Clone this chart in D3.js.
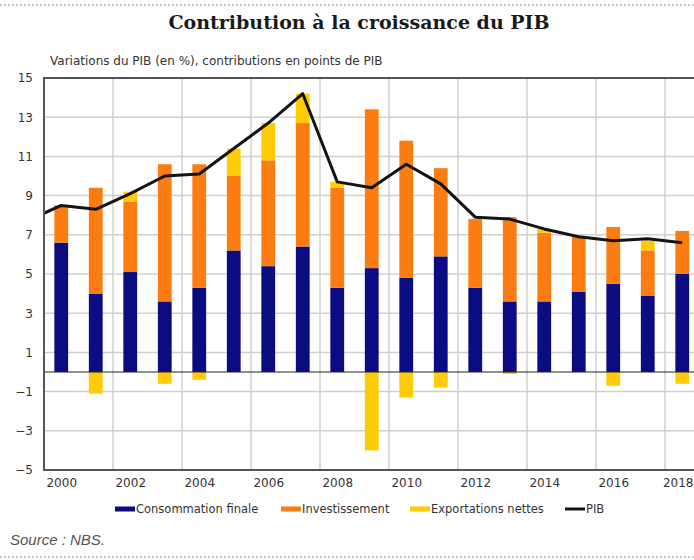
<!DOCTYPE html>
<html>
<head>
<meta charset="utf-8">
<script src="https://cdn.jsdelivr.net/npm/d3@7"></script>
<style>
  body { margin: 0; background: #fff; }
  svg { display: block; }
</style>
</head>
<body>
<div id="chart"></div>
<script>
// data (contributions in points of GDP)
var years = [2000, 2001, 2002, 2003, 2004, 2005, 2006, 2007, 2008, 2009,
             2010, 2011, 2012, 2013, 2014, 2015, 2016, 2017, 2018];
var consommation = [6.6, 4.0, 5.1, 3.6, 4.3, 6.2, 5.4, 6.4, 4.3, 5.3,
                    4.8, 5.9, 4.3, 3.6, 3.6, 4.1, 4.5, 3.9, 5.0];
var investissement = [1.9, 5.4, 3.6, 7.0, 6.3, 3.8, 5.4, 6.3, 5.1, 8.1,
                      7.0, 4.5, 3.5, 4.3, 3.5, 2.8, 2.9, 2.3, 2.2];
var exportations = [0.0, -1.1, 0.5, -0.6, -0.4, 1.4, 1.9, 1.5, 0.3, -4.0,
                    -1.3, -0.8, 0.0, -0.1, 0.2, 0.0, -0.7, 0.5, -0.6];
// GDP growth, line starts from 1999 (cut at the left edge)
var pibYears = [1999, 2000, 2001, 2002, 2003, 2004, 2005, 2006, 2007, 2008, 2009,
                2010, 2011, 2012, 2013, 2014, 2015, 2016, 2017, 2018];
var pib = [7.7, 8.5, 8.3, 9.1, 10.0, 10.1, 11.4, 12.7, 14.2, 9.7, 9.4,
           10.6, 9.6, 7.9, 7.8, 7.3, 6.9, 6.7, 6.8, 6.6];
var yTicks = [-5, -3, -1, 1, 3, 5, 7, 9, 11, 13, 15];
var xLabels = [2000, 2002, 2004, 2006, 2008, 2010, 2012, 2014, 2016, 2018];

var colors = {cons: "#0b0b82", inv: "#fb7d12", exp: "#ffcb05", pib: "#141414"};
var sans = "'DejaVu Sans', 'Liberation Sans', sans-serif";

var W = 694, H = 560;
var plot = {left: 44, right: 699.5, top: 78, bottom: 470};

var svg = d3.select("#chart")
  .append("svg")
    .attr("width", W)
    .attr("height", H);

// dotted frame lines top and bottom
[5, 557].forEach(function(yy) {
  svg.append("line")
      .attr("x1", 0).attr("x2", W)
      .attr("y1", yy).attr("y2", yy)
      .style("stroke", "#9aa3ad")
      .style("stroke-width", 1.5)
      .style("stroke-dasharray", "1.5,2.5");
});

// title
svg.append("text")
    .attr("x", 359)
    .attr("y", 29)
    .style("text-anchor", "middle")
    .style("font-family", "'DejaVu Serif', serif")
    .style("font-weight", "bold")
    .style("font-size", "19px")
    .style("fill", "#1a1a1a")
    .text("Contribution à la croissance du PIB");

// subtitle
svg.append("text")
    .attr("x", 50)
    .attr("y", 65)
    .style("font-family", sans)
    .style("font-size", "12px")
    .style("fill", "#333")
    .text("Variations du PIB (en %), contributions en points de PIB");

// scales
var x = d3.scaleLinear()
    .domain([1999.5, 2018.5])
    .range([plot.left, plot.right]);

var y = d3.scaleLinear()
    .domain([-5, 15])
    .range([plot.bottom, plot.top]);

var bw = (x(2001) - x(2000)) * 0.4;

// grid
var grid = svg.append("g");
grid.selectAll(".hgrid")
  .data(yTicks)
  .enter()
  .append("line")
    .attr("x1", plot.left).attr("x2", plot.right)
    .attr("y1", function(d) { return y(d); })
    .attr("y2", function(d) { return y(d); })
    .style("stroke", "#d0d0d0")
    .style("stroke-width", 1.5);
grid.selectAll(".vgrid")
  .data(d3.range(2001.5, 2018.6, 2))
  .enter()
  .append("line")
    .attr("x1", function(d) { return x(d); })
    .attr("x2", function(d) { return x(d); })
    .attr("y1", plot.top).attr("y2", plot.bottom)
    .style("stroke", "#d0d0d0")
    .style("stroke-width", 1.5);

// stacked bars
var rows = years.map(function(yr, i) {
  return {year: yr, cons: consommation[i], inv: investissement[i], exp: exportations[i]};
});

var segs = [];
rows.forEach(function(r) {
  var pos = 0, neg = 0;
  ["cons", "inv", "exp"].forEach(function(k) {
    var v = r[k];
    if (v >= 0) { segs.push({year: r.year, key: k, y0: pos, y1: pos + v}); pos += v; }
    else { segs.push({year: r.year, key: k, y0: neg + v, y1: neg}); neg += v; }
  });
});

svg.append("g")
  .selectAll("rect")
  .data(segs)
  .enter()
  .append("rect")
    .attr("x", function(d) { return x(d.year) - bw / 2; })
    .attr("width", bw)
    .attr("y", function(d) { return y(d.y1); })
    .attr("height", function(d) { return y(d.y0) - y(d.y1); })
    .style("fill", function(d) { return colors[d.key]; });

// zero line
svg.append("line")
    .attr("x1", plot.left).attr("x2", plot.right)
    .attr("y1", y(0)).attr("y2", y(0))
    .style("stroke", "#222")
    .style("stroke-width", 1.2);

// GDP line, clipped to plot
svg.append("clipPath")
    .attr("id", "clip")
  .append("rect")
    .attr("x", plot.left).attr("y", plot.top - 5)
    .attr("width", plot.right - plot.left)
    .attr("height", plot.bottom - plot.top + 5);

svg.append("path")
    .datum(pibYears.map(function(yr, i) { return [yr, pib[i]]; }))
    .attr("clip-path", "url(#clip)")
    .attr("d", d3.line()
        .x(function(d) { return x(d[0]); })
        .y(function(d) { return y(d[1]); }))
    .style("fill", "none")
    .style("stroke", colors.pib)
    .style("stroke-width", 3)
    .style("stroke-linejoin", "round");

// frame
svg.append("path")
    .attr("d", "M" + plot.right + "," + plot.top + "H" + plot.left + "V" + plot.bottom + "H" + plot.right)
    .style("fill", "none")
    .style("stroke", "#555")
    .style("stroke-width", 2);

// y axis labels
var yAxis = svg.append("g")
    .attr("transform", "translate(" + plot.left + ",0)")
    .call(d3.axisLeft(y).tickValues(yTicks).tickSize(0).tickPadding(11));
yAxis.select(".domain").remove();
yAxis.selectAll("text")
    .style("font-family", sans)
    .style("font-size", "12px")
    .style("fill", "#333");

// x axis labels
var xAxis = svg.append("g")
    .attr("transform", "translate(0," + plot.bottom + ")")
    .call(d3.axisBottom(x).tickValues(xLabels).tickFormat(d3.format("d")).tickSize(0).tickPadding(8));
xAxis.select(".domain").remove();
xAxis.selectAll("text")
    .style("font-family", sans)
    .style("font-size", "12px")
    .style("fill", "#333");
// last label sits at the page edge: keep it inside
xAxis.selectAll(".tick")
  .filter(function(d) { return d === 2018; })
  .select("text")
    .attr("x", W - 1 - x(2018))
    .style("text-anchor", "end");

// legend
var legendItems = [
  {label: "Consommation finale", color: colors.cons, x: 115, type: "bar"},
  {label: "Investissement", color: colors.inv, x: 281, type: "bar"},
  {label: "Exportations nettes", color: colors.exp, x: 410, type: "bar"},
  {label: "PIB", color: colors.pib, x: 565, type: "line"}
];
var legend = svg.append("g").attr("transform", "translate(0,509)");
legend.selectAll("rect")
  .data(legendItems)
  .enter()
  .append("rect")
    .attr("x", function(d) { return d.x; })
    .attr("y", function(d) { return d.type === "bar" ? -2.5 : -1.5; })
    .attr("width", 20)
    .attr("height", function(d) { return d.type === "bar" ? 5 : 3; })
    .style("fill", function(d) { return d.color; });
legend.selectAll("text")
  .data(legendItems)
  .enter()
  .append("text")
    .attr("x", function(d) { return d.x + 21; })
    .attr("y", 4)
    .style("font-family", sans)
    .style("font-size", "11.5px")
    .style("fill", "#333")
    .text(function(d) { return d.label; });

// source
svg.append("text")
    .attr("x", 10)
    .attr("y", 545)
    .style("font-family", "'Liberation Sans', Arial, sans-serif")
    .style("font-style", "italic")
    .style("font-size", "15px")
    .style("fill", "#555")
    .text("Source : NBS.");
</script>
</body>
</html>
